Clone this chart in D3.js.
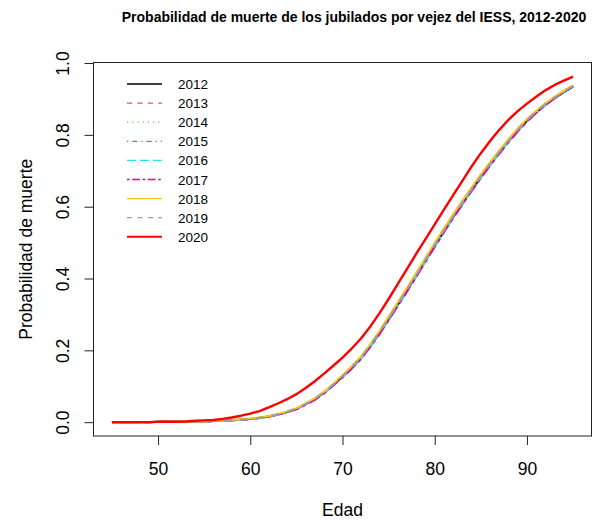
<!DOCTYPE html>
<html>
<head>
<meta charset="utf-8">
<script src="https://cdn.jsdelivr.net/npm/d3@7"></script>
<style>
  html, body { margin: 0; padding: 0; background: #ffffff; }
  svg { display: block; }
  text { font-family: "Liberation Sans", Arial, Helvetica, sans-serif; fill: #000; }
</style>
</head>
<body>
<svg id="chart" width="593" height="521"></svg>
<script>
// Age grid (years) and yearly death probabilities of IESS old-age retirees
const ages = d3.range(45, 96);

const p2012 = [0.000,0.000,0.000,0.000,0.000,0.001,0.001,0.001,0.001,0.002,
  0.002,0.003,0.004,0.005,0.007,0.009,0.012,0.016,0.021,0.028,
  0.037,0.050,0.064,0.082,0.104,0.127,0.151,0.178,0.211,0.248,
  0.287,0.327,0.367,0.408,0.450,0.491,0.532,0.571,0.609,0.646,
  0.682,0.717,0.750,0.782,0.812,0.839,0.862,0.884,0.902,0.919,0.934];
const p2013 = [0.000,0.000,0.000,0.000,0.000,0.001,0.001,0.001,0.001,0.002,
  0.002,0.003,0.004,0.005,0.007,0.009,0.012,0.016,0.022,0.029,
  0.038,0.050,0.065,0.083,0.104,0.127,0.152,0.179,0.212,0.249,
  0.288,0.328,0.368,0.409,0.451,0.492,0.533,0.572,0.610,0.647,
  0.683,0.718,0.751,0.783,0.813,0.840,0.863,0.885,0.903,0.920,0.935];
const p2014 = [0.000,0.000,0.000,0.000,0.000,0.001,0.001,0.001,0.001,0.002,
  0.002,0.003,0.004,0.005,0.007,0.009,0.012,0.016,0.021,0.028,
  0.037,0.049,0.064,0.082,0.103,0.126,0.150,0.177,0.210,0.247,
  0.286,0.326,0.366,0.407,0.449,0.490,0.531,0.570,0.608,0.645,
  0.681,0.716,0.749,0.781,0.811,0.838,0.862,0.884,0.903,0.920,0.936];
const p2015 = [0.000,0.000,0.000,0.000,0.000,0.001,0.001,0.001,0.001,0.002,
  0.002,0.003,0.004,0.005,0.007,0.009,0.011,0.015,0.021,0.028,
  0.037,0.049,0.063,0.081,0.103,0.126,0.150,0.177,0.210,0.246,
  0.285,0.325,0.365,0.406,0.448,0.489,0.530,0.569,0.607,0.644,
  0.680,0.715,0.748,0.780,0.810,0.837,0.861,0.883,0.902,0.920,0.937];
const p2016 = [0.000,0.000,0.000,0.000,0.000,0.001,0.001,0.001,0.001,0.002,
  0.002,0.003,0.004,0.005,0.007,0.009,0.012,0.016,0.021,0.028,
  0.037,0.049,0.063,0.081,0.102,0.125,0.149,0.176,0.209,0.246,
  0.285,0.325,0.365,0.406,0.448,0.489,0.530,0.569,0.607,0.645,
  0.681,0.716,0.749,0.781,0.811,0.838,0.862,0.884,0.903,0.921,0.938];
const p2017 = [0.000,0.000,0.000,0.000,0.000,0.001,0.001,0.001,0.001,0.002,
  0.002,0.003,0.004,0.005,0.007,0.009,0.012,0.016,0.021,0.028,
  0.036,0.048,0.062,0.080,0.102,0.125,0.149,0.176,0.209,0.245,
  0.284,0.324,0.364,0.405,0.447,0.488,0.529,0.568,0.606,0.644,
  0.680,0.715,0.748,0.780,0.810,0.837,0.861,0.883,0.902,0.920,0.936];
const p2018 = [0.000,0.000,0.000,0.000,0.000,0.001,0.001,0.001,0.001,0.002,
  0.002,0.003,0.004,0.006,0.008,0.010,0.013,0.017,0.023,0.030,
  0.039,0.052,0.067,0.085,0.107,0.131,0.156,0.183,0.217,0.254,
  0.294,0.334,0.375,0.416,0.458,0.499,0.540,0.579,0.617,0.654,
  0.690,0.724,0.757,0.788,0.818,0.844,0.867,0.888,0.906,0.923,0.938];
const p2019 = [0.000,0.000,0.000,0.000,0.000,0.001,0.001,0.001,0.001,0.002,
  0.002,0.003,0.004,0.005,0.007,0.009,0.012,0.016,0.022,0.029,
  0.038,0.050,0.065,0.083,0.105,0.128,0.153,0.180,0.213,0.250,
  0.289,0.329,0.369,0.410,0.452,0.493,0.534,0.573,0.611,0.648,
  0.684,0.719,0.752,0.784,0.814,0.841,0.864,0.886,0.904,0.921,0.936];
const p2020 = [0.000,0.000,0.000,0.000,0.000,0.001,0.001,0.001,0.002,0.004,
  0.005,0.006,0.009,0.013,0.018,0.024,0.031,0.041,0.052,0.064,
  0.078,0.095,0.114,0.135,0.157,0.180,0.205,0.233,0.266,0.303,
  0.343,0.385,0.427,0.469,0.510,0.551,0.592,0.632,0.672,0.712,
  0.749,0.783,0.814,0.842,0.866,0.887,0.906,0.924,0.939,0.951,0.962];

const years = ["2012","2013","2014","2015","2016","2017","2018","2019","2020"];
const seriesValues = [p2012,p2013,p2014,p2015,p2016,p2017,p2018,p2019,p2020];

const xTicks = [50, 60, 70, 80, 90];
const yTicks = [0.0, 0.2, 0.4, 0.6, 0.8, 1.0];

const titleText = "Probabilidad de muerte de los jubilados por vejez del IESS, 2012-2020";
const xTitle = "Edad";
const yTitle = "Probabilidad de muerte";

// Line styles in the order of the years (colour, dash pattern at unit width, width)
const colors = ["#000000","#DF536B","#61D04F","#2297E6","#28E2E5","#CD0BBC","#F5C710","#9E9E9E","#FF0000"];
const dashes = [null,[4,4],[1,3],[1,3,4,3],[7,3],[2,2,6,2],null,[4,4],null];
const widths = [2,2,2,2,2,2,2,2,2.4];

const svg = d3.select("#chart");

// Plot region (data range padded by 4% on each side)
const xMin = 45, xMax = 95, yMin = 0, yMax = 0.963;
const xPad = (xMax - xMin) * 0.04, yPad = (yMax - yMin) * 0.04;
const plotLeft = 93.5, plotRight = 591.5, plotTop = 62.5, plotBottom = 436;

const x = d3.scaleLinear().domain([xMin - xPad, xMax + xPad]).range([plotLeft, plotRight]);
const y = d3.scaleLinear().domain([yMin - yPad, yMax + yPad]).range([plotBottom, plotTop]);

// Curves
const line = d3.line().x((d, i) => x(ages[i])).y(d => y(d));
const curves = svg.append("g");
seriesValues.forEach((vals, k) => {
  const path = curves.append("path")
    .datum(vals)
    .attr("d", line)
    .attr("fill", "none")
    .attr("stroke", colors[k])
    .attr("stroke-width", widths[k])
    .attr("stroke-linejoin", "round");
  if (dashes[k]) path.attr("stroke-dasharray", dashes[k].map(v => v * widths[k]).join(","));
});

// Frame
svg.append("rect")
  .attr("x", plotLeft).attr("y", plotTop)
  .attr("width", plotRight - plotLeft).attr("height", plotBottom - plotTop)
  .attr("fill", "none").attr("stroke", "#222").attr("stroke-width", 1);

// Axes
const xAxis = svg.append("g")
  .attr("transform", `translate(0,${plotBottom})`)
  .call(d3.axisBottom(x).tickValues(xTicks).tickSize(9).tickPadding(6).tickFormat(d3.format("d")));
xAxis.select(".domain").remove();
xAxis.selectAll(".tick line").attr("stroke", "#222");
xAxis.selectAll(".tick text")
  .style("font-family", '"Liberation Sans", Arial, sans-serif')
  .style("font-size", "17.5px").attr("fill", "#111").attr("y", 27).attr("dy", "0.71em");

const yAxis = svg.append("g")
  .attr("transform", `translate(${plotLeft},0)`)
  .call(d3.axisLeft(y).tickValues(yTicks).tickSize(9).tickFormat(d3.format(".1f")));
yAxis.select(".domain").remove();
yAxis.selectAll(".tick line").attr("stroke", "#222");
yAxis.selectAll(".tick text")
  .attr("x", null).attr("dy", null)
  .attr("text-anchor", "middle")
  .attr("transform", "translate(-25,0) rotate(-90)")
  .style("font-family", '"Liberation Sans", Arial, sans-serif')
  .style("font-size", "17.5px").attr("fill", "#111");

// Titles
svg.append("text")
  .attr("x", 354).attr("y", 22)
  .attr("text-anchor", "middle")
  .style("font-size", "14px").style("font-weight", "bold")
  .text(titleText);

svg.append("text")
  .attr("x", (plotLeft + plotRight) / 2).attr("y", 516)
  .attr("text-anchor", "middle")
  .style("font-size", "17.5px").attr("fill", "#111")
  .text(xTitle);

svg.append("text")
  .attr("transform", `translate(31.5,${(plotTop + plotBottom) / 2}) rotate(-90)`)
  .attr("text-anchor", "middle")
  .style("font-size", "17.5px").attr("fill", "#111")
  .text(yTitle);

// Legend
const legend = svg.append("g");
years.forEach((yr, k) => {
  const cy = 84 + k * 19.1;
  const lw = k === 8 ? 2 : 1.3;
  const seg = legend.append("line")
    .attr("x1", 127).attr("x2", 162).attr("y1", cy).attr("y2", cy)
    .attr("stroke", colors[k]).attr("stroke-width", lw);
  if (dashes[k]) seg.attr("stroke-dasharray", dashes[k].map(v => v * 1.3).join(","));
  legend.append("text")
    .attr("x", 178).attr("y", cy + 5)
    .style("font-size", "13.5px").attr("fill", "#111")
    .text(yr);
});
</script>
</body>
</html>
